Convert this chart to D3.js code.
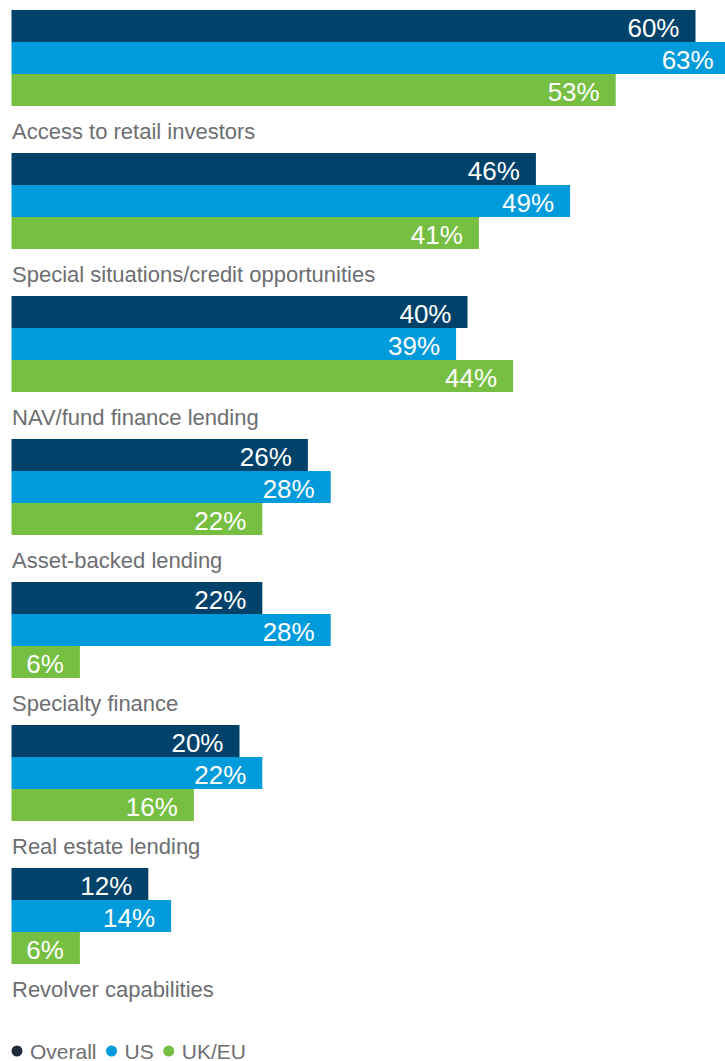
<!DOCTYPE html>
<html>
<head>
<meta charset="utf-8">
<script src="https://cdn.jsdelivr.net/npm/d3@7"></script>
<style>
  body { margin: 0; background: #fff; }
  svg { display: block; font-family: "Liberation Sans", Arial, sans-serif; }
</style>
</head>
<body>
<div id="chart"></div>
<script>
// Categories and series values (percent)
const categories = [
  "Access to retail investors",
  "Special situations/credit opportunities",
  "NAV/fund finance lending",
  "Asset-backed lending",
  "Specialty finance",
  "Real estate lending",
  "Revolver capabilities"
];
const seriesNames = ["Overall", "US", "UK/EU"];
const overall = [60, 46, 40, 26, 22, 20, 12];
const us      = [63, 49, 39, 28, 28, 22, 14];
const ukeu    = [53, 41, 44, 22, 6, 16, 6];
const colors  = ["#00426a", "#009bdb", "#77bf43"];
const legendDots = ["#1e2b3a", "#009bdb", "#77bf43"];

const width = 725, height = 1061;
const svg = d3.select("#chart").append("svg")
    .attr("width", width)
    .attr("height", height);

const data = categories.map((c, i) => ({
  category: c,
  values: [overall[i], us[i], ukeu[i]].map((v, j) => ({ series: seriesNames[j], value: v }))
}));

// Scales
const x = d3.scaleLinear().domain([0, 1]).range([11.5, 11.5 + 11.4]);
const y = d3.scaleBand().domain(categories).range([10, 10 + 143 * categories.length]);
const ySub = d3.scaleBand().domain(seriesNames).range([0, 96]);
const color = d3.scaleOrdinal().domain(seriesNames).range(colors);

const groups = svg.selectAll(".group")
  .data(data)
  .enter().append("g")
    .attr("class", "group")
    .attr("transform", d => `translate(0,${y(d.category)})`);

groups.selectAll("rect")
  .data(d => d.values)
  .enter().append("rect")
    .attr("x", x(0))
    .attr("y", d => ySub(d.series))
    .attr("width", d => x(d.value) - x(0))
    .attr("height", ySub.bandwidth())
    .attr("fill", d => color(d.series));

groups.selectAll(".val")
  .data(d => d.values)
  .enter().append("text")
    .attr("class", "val")
    .attr("x", d => x(d.value) - 16)
    .attr("y", d => ySub(d.series) + ySub.bandwidth() / 2 + 11)
    .attr("text-anchor", "end")
    .attr("fill", "#fff")
    .style("font-size", "26px")
    .text(d => d.value + "%");

groups.append("text")
    .attr("x", 12)
    .attr("y", 129)
    .attr("fill", "#6d6e71")
    .style("font-size", "22px")
    .text(d => d.category);

// Legend
const legend = svg.append("g").attr("transform", "translate(0,1051)");
let lx = 17;
seriesNames.forEach((s, i) => {
  legend.append("circle")
    .attr("cx", lx)
    .attr("cy", 0)
    .attr("r", 5.5)
    .attr("fill", legendDots[i]);
  const t = legend.append("text")
    .attr("x", lx + 13)
    .attr("y", 7.5)
    .attr("fill", "#6d6e71")
    .style("font-size", "21px")
    .text(s);
  lx += 13 + t.node().getComputedTextLength() + 15;
});
</script>
</body>
</html>
